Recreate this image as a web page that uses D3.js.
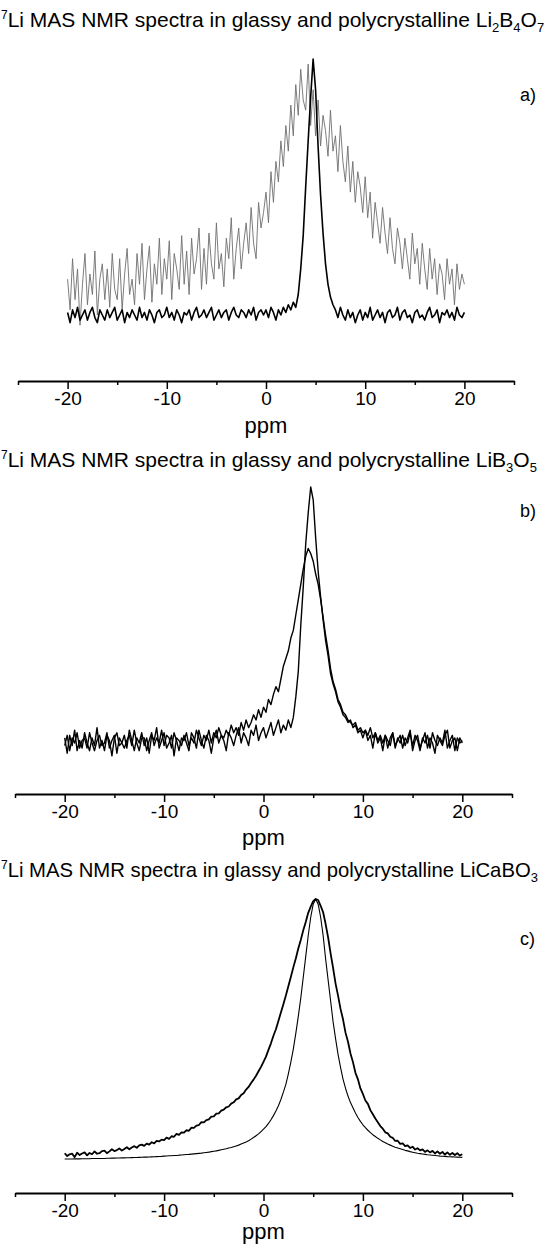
<!DOCTYPE html>
<html>
<head>
<meta charset="utf-8">
<script src="https://cdn.jsdelivr.net/npm/d3@7"></script>
<style>
  body { margin: 0; background: #fff; }
  text { font-family: "Liberation Sans", Arial, sans-serif; fill: #000; }
</style>
</head>
<body>
<div id="chart"></div>
<script>
// Spectra sampled on a ppm grid from -20 to 20, one point every 0.25 ppm (161 points).
// Intensities are in arbitrary units, 100 = tallest peak of each panel.
var ppmStart = -20;
var ppmStep = 0.25;

var majorTicks = [-20, -10, 0, 10, 20];
var minorTicks = [-25, -15, -5, 5, 15, 25];
var panelLetters = ["a)", "b)", "c)"];
var titleText = "Li MAS NMR spectra in glassy and polycrystalline ";
// [text, isSubscript]
var formulas = [
    [["Li", 0], ["2", 1], ["B", 0], ["4", 1], ["O", 0], ["7", 1]],
    [["LiB", 0], ["3", 1], ["O", 0], ["5", 1]],
    [["LiCaBO", 0], ["3", 1]]
];

// a) Li2B4O7
var aGlassy = [
    14, 2, 22, 6, 18, -4, 12, 24,
    4, 16, 8, 25, 0, 14, 20, 6,
    18, 3, 24, 10, 6, 22, 2, 16,
    26, 8, 14, 4, 24, 12, 28, 6,
    18, 27, 5, 20, 12, 30, 8, 22,
    14, 29, 6, 24, 18, 10, 31, 12,
    25, 8, 30, 16, 22, 34, 10, 26,
    12, 32, 20, 14, 36, 18, 24, 11,
    30, 22, 38, 14, 26, 34, 18, 28,
    36, 24, 42, 28, 22, 44, 34, 40,
    48, 36, 56, 44, 60, 52, 68, 58,
    74, 64, 82, 70, 90, 78, 96, 84,
    80, 98, 74, 88, 70, 84, 66, 78,
    72, 62, 80, 64, 70, 56, 74, 60,
    52, 66, 48, 60, 44, 56, 50, 40,
    54, 38, 48, 30, 44, 36, 28, 42,
    32, 24, 38, 26, 20, 34, 28, 18,
    30, 22, 14, 32, 20, 26, 12, 28,
    18, 10, 26, 14, 22, 8, 20, 16,
    6, 22, 12, 18, 4, 20, 10, 16,
    12
];
var aCrystal = [
    1, -3, 2, -1, 3, -2, 0, 2,
    -2, 1, 3, -1, -3, 2, 0, -2,
    2, -1, 1, 3, -2, 0, 2, -3,
    1, -1, 2, 0, -2, 3, -1, 1,
    -2, 2, 0, -3, 1, 2, -1, 0,
    3, -1, 1, -2, 2, 0, -3, 1,
    0, 2, -2, 1, 3, -1, 0, 2,
    -1, 1, 3, -2, 0, 2, -1, 1,
    2, -2, 1, 3, 0, -1, 2, 1,
    -1, 2, 0, 3, -2, 1, 2, 0,
    2, -1, 3, 1, -2, 2, 0, 3,
    1, 4, 2, 5, 3, 8, 18, 31,
    50, 68, 85, 100, 88, 66, 47, 32,
    20, 12, 7, 4, 2, -1, 3, 0,
    -2, 2, -1, 1, -3, 0, 2, -2,
    1, -1, 3, -2, 0, 2, -1, 1,
    -3, 1, 2, -1, 0, 3, -2, 1,
    2, -1, 0, -3, 1, 2, -1, 0,
    -2, 1, 3, -1, 0, 2, -3, 1,
    0, 2, -1, 1, -2, 3, 0, -1,
    1
];

// b) LiB3O5
var bGlassy = [
    -1, 3, -3, 2, 0, 4, -2, 1,
    2, -2, 4, 0, -3, 1, 3, -1,
    0, 4, -2, 1, 3, -4, 2, 0,
    -2, 1, 3, -1, 5, 0, -3, 2,
    2, -3, 1, 4, -1, 2, 0, 5,
    -1, 3, 2, -2, 4, 1, -3, 2,
    1, 4, -1, 2, 0, 5, 2, -1,
    3, 1, 5, 0, 4, 2, 6, 3,
    2, 5, 3, 7, 4, 6, 3, 8,
    5, 9, 6, 8, 11, 9, 13, 10,
    14, 12, 17, 15, 19, 22, 20, 25,
    30, 33, 36, 41, 44, 50, 56, 62,
    68, 73, 76, 74, 71, 66, 62, 56,
    49, 42, 36, 29, 24, 21, 17, 15,
    12, 11, 9, 8, 7, 8, 5, 6,
    4, 5, 3, 6, 2, 4, 1, 3,
    0, 3, -2, 2, 4, -1, 1, 3,
    -2, 2, 0, 4, -1, 3, 1, -3,
    2, 0, 3, -2, 4, 1, -1, 2,
    0, 5, -2, 1, 3, -3, 2, 0,
    1
];
var bCrystal = [
    2, -4, 3, -1, 5, -3, 1, -2,
    4, 0, -3, 2, -1, 6, -2, 1,
    -3, 3, 1, -5, 2, 4, -1, 0,
    3, -2, 5, 1, -3, 2, 0, 4,
    -1, 2, -4, 3, 1, 6, -2, 1,
    4, -2, 0, 3, -5, 2, 1, -1,
    3, 0, -3, 4, 2, -2, 5, 1,
    -2, 3, 1, -4, 2, 5, 0, 3,
    1, -3, 4, 2, -1, 3, 6, 0,
    4, 2, -1, 5, 3, 7, 1, 4,
    6, 2, 5, 8, 3, 6, 9, 4,
    7, 5, 9, 6, 10, 18, 28, 46,
    61, 78, 90, 100, 95, 80, 67, 57,
    48, 40, 34, 27, 23, 20, 16, 14,
    11, 10, 8, 9, 6, 7, 4, 5,
    2, 5, 1, 3, -2, 4, 0, 2,
    -3, 3, 1, -1, 4, -2, 2, 0,
    3, -1, 2, 5, -3, 1, 3, -2,
    1, 4, -2, 2, 0, -4, 3, 1,
    -1, 3, 5, -2, 1, 2, -3, 2,
    0
];

// c) LiCaBO3
var cGlassy = [
    2.6, 1.5, 2.2, 2.4, 1.1, 2.8, 1.9, 2.5,
    2.9, 1.8, 2.7, 2.2, 3.3, 2.4, 2.6, 3.4,
    3.6, 2.6, 3.3, 4.1, 3.4, 3.8, 4.4, 3.6,
    4.2, 4.9, 4.1, 4.8, 5.3, 4.7, 5.6, 5.9,
    5.4, 6.3, 5.9, 6.8, 6.4, 7.3, 7.1, 7.8,
    7.6, 8.6, 8.1, 9.1, 8.9, 10.0, 9.6, 10.6,
    10.5, 11.4, 11.2, 12.4, 12.3, 13.2, 13.4, 14.5,
    14.4, 15.3, 15.6, 16.6, 16.7, 17.8, 17.9, 18.9,
    19.3, 20.2, 20.5, 21.6, 22.1, 23.2, 23.6, 24.9,
    25.6, 27.0, 28.0, 29.5, 30.8, 32.3, 34.0, 35.7,
    37.6, 39.6, 42.2, 44.7, 47.6, 50.1, 53.3, 56.5,
    59.7, 63.0, 66.6, 70.1, 73.8, 77.2, 81.0, 84.3,
    88.0, 91.2, 94.7, 97.1, 99.2, 100, 99.6, 97.4,
    94.9, 90.4, 85.3, 79.2, 73.6, 67.6, 63.0, 57.9,
    53.9, 48.8, 45.3, 40.8, 37.5, 33.4, 30.9, 27.4,
    25.3, 22.8, 21.5, 19.1, 17.5, 15.9, 14.5, 13.0,
    12.0, 10.6, 10.2, 8.9, 8.5, 7.3, 7.4, 6.2,
    6.4, 5.3, 5.6, 4.6, 5.1, 4.0, 4.5, 3.7,
    4.1, 3.1, 3.7, 2.9, 3.5, 2.5, 3.3, 2.4,
    3.1, 2.1, 2.9, 2.0, 2.7, 1.9, 2.6, 1.7,
    2.2
];
var cCrystal = [
    0.4, 0.4, 0.4, 0.4, 0.45, 0.45, 0.45, 0.5,
    0.5, 0.5, 0.5, 0.55, 0.55, 0.55, 0.6, 0.6,
    0.6, 0.65, 0.65, 0.7, 0.7, 0.75, 0.75, 0.8,
    0.8, 0.85, 0.85, 0.9, 0.95, 0.95, 1.0, 1.05,
    1.1, 1.1, 1.15, 1.2, 1.25, 1.3, 1.35, 1.4,
    1.5, 1.55, 1.6, 1.65, 1.7, 1.75, 1.85, 1.9,
    2.0, 2.1, 2.15, 2.25, 2.35, 2.45, 2.55, 2.65,
    2.8, 2.9, 3.0, 3.2, 3.35, 3.5, 3.7, 3.9,
    4.1, 4.3, 4.6, 4.8, 5.1, 5.4, 5.7, 6.1,
    6.5, 6.9, 7.4, 8.0, 8.6, 9.3, 10.0, 10.9,
    11.8, 12.8, 14.0, 15.4, 17.0, 18.8, 20.8, 23.2,
    26, 29, 33, 37.5, 42.5, 48.5, 55, 62,
    70, 78, 86, 93, 98, 100, 98, 93,
    86, 77, 69, 61, 53, 46.5, 40.5, 35.5,
    31, 27.5, 24.5, 22, 20, 18, 16.3, 14.8,
    13.5, 12.4, 11.4, 10.5, 9.7, 9.0, 8.3, 7.7,
    7.1, 6.6, 6.1, 5.7, 5.3, 4.9, 4.6, 4.3,
    4.0, 3.7, 3.5, 3.2, 3.0, 2.8, 2.6, 2.45,
    2.3, 2.15, 2.0, 1.9, 1.8, 1.7, 1.6, 1.5,
    1.45, 1.4, 1.3, 1.25, 1.2, 1.15, 1.1, 1.05,
    1.0
];

var width = 553, height = 1251;
var fontFamily = '"Liberation Sans", Arial, sans-serif';

var svg = d3.select('#chart').append('svg')
    .attr('width', width)
    .attr('height', height)
    .style('display', 'block')
    .style('background', '#fff');

// layout of each panel, in page pixels
var panels = [
    {
        titleY: 27, titleSize: 21, x0: 18, x1: 514, base: 315, top: 59, axisY: 381, labelY: 433, letterY: 101,
        series: [
            { values: aGlassy, color: '#6e6e6e', width: 0.9 },
            { values: aCrystal, color: '#000', width: 1.6 }
        ]
    },
    {
        titleY: 467, titleSize: 21, x0: 15, x1: 512, base: 743, top: 487, axisY: 794, labelY: 845, letterY: 517,
        series: [
            { values: bGlassy, color: '#000', width: 1.4 },
            { values: bCrystal, color: '#000', width: 1.4 }
        ]
    },
    {
        titleY: 877, titleSize: 20.3, x0: 15, x1: 512, base: 1160, top: 899, axisY: 1193, labelY: 1239, letterY: 945,
        series: [
            { values: cCrystal, color: '#000', width: 1.1 },
            { values: cGlassy, color: '#000', width: 1.8 }
        ]
    }
];

function drawTitle(g, p, idx) {
    var t = g.append('text')
        .attr('x', 1)
        .attr('y', p.titleY)
        .style('font-size', p.titleSize + 'px');
    t.append('tspan').attr('dy', -8).style('font-size', '12px').text('7');
    t.append('tspan').attr('dy', 8).text(titleText);
    var shift = 0;
    formulas[idx].forEach(function(part) {
        var target = part[1] ? 5 : 0;
        t.append('tspan')
            .attr('dy', target - shift)
            .style('font-size', part[1] ? '13px' : p.titleSize + 'px')
            .text(part[0]);
        shift = target;
    });
}

function drawPanel(p, idx) {
    var g = svg.append('g');
    var x = d3.scaleLinear().domain([-25, 25]).range([p.x0, p.x1]);
    var y = d3.scaleLinear().domain([0, 100]).range([p.base, p.top]);

    var line = d3.line()
        .x(function(d, i) { return x(ppmStart + i * ppmStep); })
        .y(function(d) { return y(d); });

    drawTitle(g, p, idx);

    p.series.forEach(function(s) {
        g.append('path')
            .datum(s.values)
            .attr('d', line)
            .attr('fill', 'none')
            .attr('stroke', s.color)
            .attr('stroke-width', s.width)
            .attr('stroke-linejoin', 'round');
    });

    // minor ticks first, then the major axis with labels
    g.append('g')
        .attr('transform', 'translate(0,' + p.axisY + ')')
        .call(d3.axisBottom(x).tickValues(minorTicks).tickSize(4).tickSizeOuter(0).tickFormat(''))
        .call(function(a) { a.select('.domain').remove(); })
        .selectAll('line').attr('stroke-width', 1.5);

    var major = g.append('g')
        .attr('transform', 'translate(0,' + p.axisY + ')')
        .call(d3.axisBottom(x).tickValues(majorTicks).tickSize(8).tickSizeOuter(0).tickPadding(3)
            .tickFormat(function(d) { return String(d); }));
    major.select('.domain').attr('stroke-width', 2);
    major.selectAll('.tick line').attr('stroke-width', 1.5);
    major.selectAll('text')
        .style('font-size', '19px')
        .style('font-family', fontFamily);

    g.append('text')
        .attr('x', x(0))
        .attr('y', p.labelY)
        .attr('text-anchor', 'middle')
        .style('font-size', '22px')
        .text('ppm');

    g.append('text')
        .attr('x', 520)
        .attr('y', p.letterY)
        .style('font-size', '18px')
        .text(panelLetters[idx]);
}

panels.forEach(drawPanel);
</script>
</body>
</html>
